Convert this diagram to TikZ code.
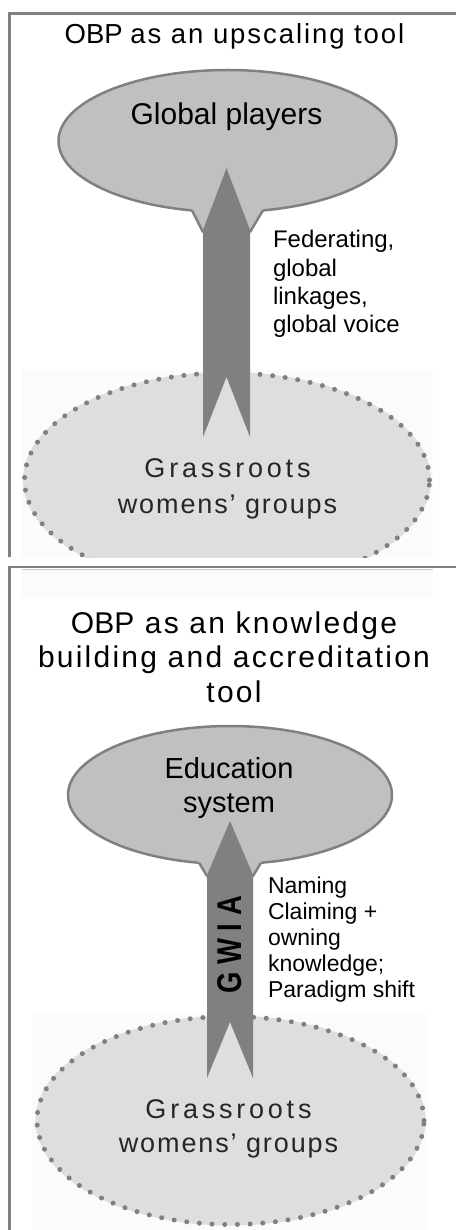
\documentclass[tikz,border=0pt]{standalone}
\usepackage{fontspec}
\setmainfont{Liberation Sans}
\usepackage{graphicx}
\definecolor{framec}{HTML}{808080}
\definecolor{bubblec}{HTML}{C0C0C0}
\definecolor{arrowc}{HTML}{808080}
\definecolor{grassc}{HTML}{DEDEDE}
\definecolor{dotc}{HTML}{808080}
\definecolor{faintc}{HTML}{FBFBFB}
\tikzset{
  panel/.style={draw=framec, line width=2.6pt},
  bubblefill/.style={fill=bubblec, draw=framec, line width=2.5pt},
  necklines/.style={draw=framec, line width=2.5pt},
  grassfill/.style={fill=grassc},
  dots/.style={draw=dotc, line width=5pt, line cap=round, dash pattern=on 0pt off 12.7pt},
  blockarrow/.style={fill=arrowc},
  txt/.style={inner sep=0pt, outer sep=0pt},
  grasstxt/.style={txt, text=black!85},
}
\begin{document}
\begin{tikzpicture}[x=1pt,y=-1pt]
\useasboundingbox (0,0) rectangle (456,1230);
\fill[white] (0,0) rectangle (456,1230);

% ---------- panel 1 ----------
\fill[faintc] (22,370) rectangle (433,557);
\coordinate (g1) at (227,480);
\begin{scope}
  \clip (0,0) rectangle (456,557);
  \path[grassfill] (g1) ellipse [x radius=204pt, y radius=108pt];
  \draw[dots] (g1) ellipse [x radius=202.5pt, y radius=107pt];
\end{scope}
\coordinate (b1) at (227.5,141);
\draw[bubblefill] (b1) ellipse [x radius=169pt, y radius=71pt];
\fill[bubblec] (190,206) -- (203,234) -- (250,234) -- (265,206) -- cycle;
\draw[necklines] (192,210.4) -- (203,232) (263,210.4) -- (250,232);
\coordinate (a1tip) at (226.5,168);
\coordinate (a1tail) at (226.5,377);
\fill[blockarrow] (203,437) -- (203,230) -- (a1tip) -- (250,230) -- (250,437) -- (a1tail) -- cycle;
\draw[panel] (9.5,557) -- (9.5,13.5) -- (456,13.5);

\node[txt, anchor=base] (t1) at (234.5,44)
  {\fontsize{27.5}{32}\selectfont OBP {\addfontfeatures{LetterSpace=7}as an upscaling tool}};
\node[txt, anchor=base] (gp) at (226.5,125) {\fontsize{30}{34}\selectfont Global players};
\node[txt, anchor=base west] (fed) at (273,248)
  {\parbox[t]{180pt}{\raggedright\fontsize{24}{28.3}\selectfont Federating,\\ global\\ linkages,\\ global voice}};
\node[grasstxt, anchor=base] (gr1) at (227.5,477)
  {\parbox[t]{400pt}{\centering\fontsize{27}{36}\selectfont {\addfontfeatures{LetterSpace=14}Grassroots}\\ {\addfontfeatures{LetterSpace=7}womens' groups}}};

% ---------- panel 2 ----------
\fill[faintc] (22,569) rectangle (433,597);
\fill[faintc] (32,1013) rectangle (427,1230);
\coordinate (g2) at (230.5,1120.5);
\path[grassfill] (g2) ellipse [x radius=195pt, y radius=105pt];
\draw[dots] (g2) ellipse [x radius=193.5pt, y radius=104pt];
\coordinate (b2) at (230,795);
\draw[bubblefill] (b2) ellipse [x radius=162pt, y radius=69pt];
\fill[bubblec] (197,859) -- (207,878) -- (253,878) -- (263,859) -- cycle;
\draw[necklines] (199,862.7) -- (207,876) (261,862.7) -- (253,876);
\coordinate (a2tip) at (230,821);
\coordinate (a2tail) at (230,1022);
\fill[blockarrow] (207,1078) -- (207,875) -- (a2tip) -- (253,875) -- (253,1078) -- (a2tail) -- cycle;
\draw[panel] (9.5,1230) -- (9.5,567) -- (456,567);
\draw[gray!40, line width=1.2pt] (22,569.5) -- (433,569.5);

\node[txt, anchor=base] (t2) at (234,633)
  {\parbox[t]{440pt}{\centering\fontsize{30}{34.5}\selectfont\addfontfeatures{LetterSpace=7.5}{\addfontfeatures{LetterSpace=0}OBP} as an knowledge\\ building and accreditation\\ tool}};
\node[txt, anchor=base] (edu) at (229,778)
  {\parbox[t]{300pt}{\centering\fontsize{29}{34}\selectfont Education\\ system}};
\node[txt, rotate=90] (gwia) at (230,945)
  {\scalebox{1}[1.25]{\fontsize{27.5}{30}\selectfont\bfseries G W I A}};
\node[txt, anchor=base west] (nam) at (268,893)
  {\parbox[t]{185pt}{\raggedright\fontsize{23}{26.2}\selectfont Naming\\ Claiming +\\ owning\\ knowledge;\\ Paradigm shift}};
\node[grasstxt, anchor=base] (gr2) at (228.5,1118)
  {\parbox[t]{400pt}{\centering\fontsize{27}{34}\selectfont {\addfontfeatures{LetterSpace=14}Grassroots}\\ {\addfontfeatures{LetterSpace=7}womens' groups}}};
\end{tikzpicture}
\end{document}
